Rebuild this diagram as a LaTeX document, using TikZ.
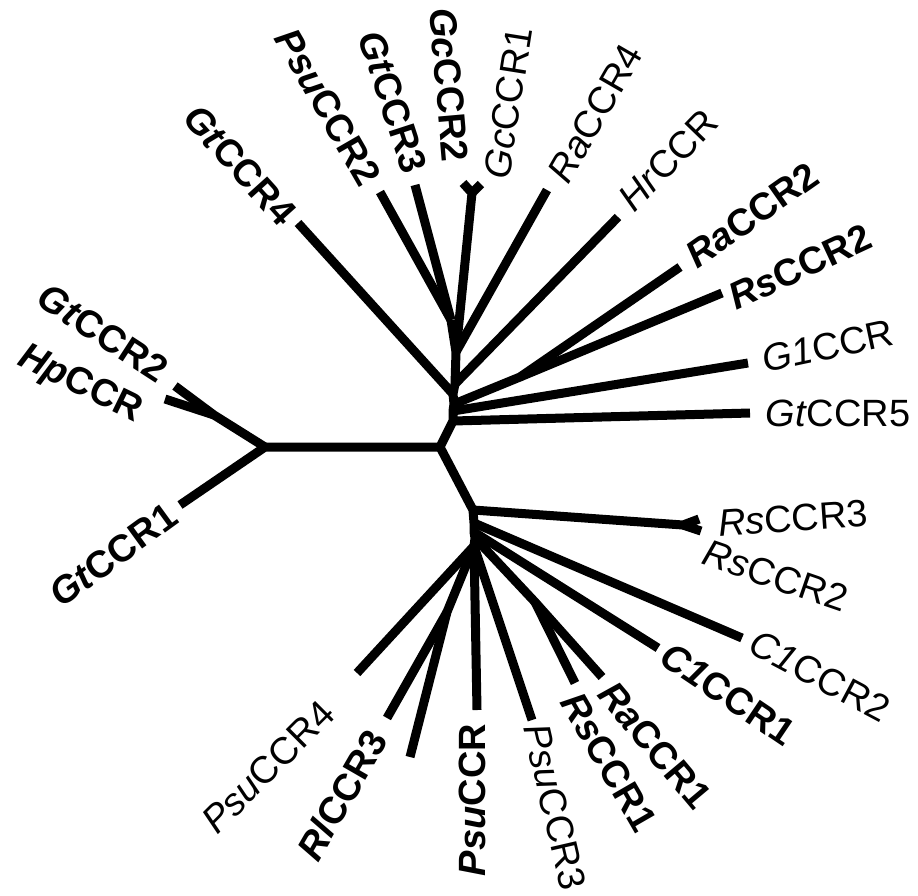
\documentclass[tikz,border=0pt]{standalone}
\usepackage{fontspec}
\setmainfont{Liberation Sans}
\begin{document}
\begin{tikzpicture}[x=1pt,y=-1pt,
  branch/.style={line width=9pt, line cap=butt, line join=round},
  lab/.style={font=\fontsize{38}{40}\selectfont, inner sep=0pt},
  blab/.style={font=\fontsize{38}{40}\selectfont\bfseries, inner sep=0pt}]
\useasboundingbox (0,0) rectangle (918,895);

% internal nodes of the tree
\coordinate (L)  at (265,447);
\coordinate (C)  at (440,447);
\coordinate (hpf) at (214,415);
% upper cluster trunk
\coordinate (U0) at (453,421);
\coordinate (U1) at (453,411);
\coordinate (U2) at (454,404);
\coordinate (U3) at (453,394);
\coordinate (U4) at (455,384);
\coordinate (U5) at (456,352);
\coordinate (U6) at (451,320);
\coordinate (Rf) at (520,377);
\coordinate (Gf) at (472,193);
% lower cluster trunk
\coordinate (Lw) at (473,510);
\coordinate (L1) at (474,523);
\coordinate (L2) at (474,532);
\coordinate (L3) at (475,538);
\coordinate (Lb) at (474,546);
\coordinate (Rs3f) at (683,525);
\coordinate (Rsf) at (535,602);
\coordinate (Rlf) at (447,612);

% leaves
\coordinate (tGtCCR2) at (175,386);
\coordinate (tHpCCR) at (165,399);
\coordinate (tGtCCR1) at (180,505);
\coordinate (tGtCCR5) at (750,413);
\coordinate (tG1CCR) at (748,363);
\coordinate (tRaCCR2) at (680,267);
\coordinate (tRsCCR2) at (722,293);
\coordinate (tGtCCR4) at (298,223);
\coordinate (tHrCCR) at (618,217);
\coordinate (tRaCCR4) at (547,190);
\coordinate (tGcCCR2) at (463,183);
\coordinate (tGcCCR1) at (481,184);
\coordinate (tPsuCCR2) at (380,192);
\coordinate (tGtCCR3) at (415,185);
\coordinate (tRsCCR3) at (699,519);
\coordinate (tRsCCR2b) at (701,531);
\coordinate (tC1CCR2) at (742,638);
\coordinate (tC1CCR1) at (658,648);
\coordinate (tRaCCR1) at (602,677);
\coordinate (tRsCCR1) at (575,683);
\coordinate (tPsuCCR3) at (532,720);
\coordinate (tPsuCCR) at (477,710);
\coordinate (tRlCCR3) at (387,718);
\coordinate (tUnl) at (410,757);
\coordinate (tPsuCCR4) at (357,673);

% backbone and trunks
\draw[branch] (tGtCCR1) -- (L) -- (C) -- (U0) -- (U1) -- (U2) -- (U3) -- (U4) -- (U5) -- (U6);
\draw[branch] (C) -- (Lw) -- (L1) -- (L2) -- (L3) -- (Lb);
\draw[branch] (L) -- (hpf) -- (tGtCCR2);
\draw[branch] (hpf) -- (tHpCCR);

% upper cluster branches
\draw[branch] (U0) -- (tGtCCR5);
\draw[branch] (U1) -- (tG1CCR);
\draw[branch] (U2) -- (Rf) -- (tRaCCR2);
\draw[branch] (Rf) -- (tRsCCR2);
\draw[branch] (U3) -- (tGtCCR4);
\draw[branch] (U4) -- (tHrCCR);
\draw[branch] (U5) -- (tRaCCR4);
\draw[branch] (U5) -- (Gf) -- (tGcCCR2);
\draw[branch] (Gf) -- (tGcCCR1);
\draw[branch] (U6) -- (tPsuCCR2);
\draw[branch] (U6) -- (tGtCCR3);

% lower cluster branches
\draw[branch] (Lw) -- (Rs3f) -- (tRsCCR3);
\draw[branch] (Rs3f) -- (tRsCCR2b);
\draw[branch] (L1) -- (tC1CCR2);
\draw[branch] (L2) -- (tC1CCR1);
\draw[branch] (L3) -- (Rsf) -- (tRaCCR1);
\draw[branch] (Rsf) -- (tRsCCR1);
\draw[branch] (Lb) -- (tPsuCCR3);
\draw[branch] (Lb) -- (tPsuCCR);
\draw[branch] (Lb) -- (Rlf) -- (tUnl);
\draw[branch] (Rlf) -- (tRlCCR3);
\draw[branch] (Lb) -- (tPsuCCR4);

% leaf labels
\node[blab, rotate=-33] (lGtCCR2) at (103,333) {\textit{Gt}CCR2};
\node[blab, rotate=-26] (lHpCCR) at (80,385) {\textit{Hp}CCR};
\node[blab, rotate=36] (lGtCCR1) at (113,555) {\textit{Gt}CCR1};
\node[blab, rotate=-48] (lGtCCR4) at (240,165) {\textit{Gt}CCR4};
\node[blab, rotate=-60] (lPsuCCR2) at (328,107) {\textit{Psu}CCR2};
\node[blab, rotate=-72] (lGtCCR3) at (393,102) {\textit{Gt}CCR3};
\node[blab, rotate=-85] (lGcCCR2) at (449,85) {\textit{Gc}CCR2};
\node[lab, rotate=81] (lGcCCR1) at (508,103) {\textit{Gc}CCR1};
\node[lab, rotate=60] (lRaCCR4) at (595,113) {\textit{Ra}CCR4};
\node[lab, rotate=46] (lHrCCR) at (668,160) {\textit{Hr}CCR};
\node[blab, rotate=35] (lRaCCR2) at (752,215) {\textit{Ra}CCR2};
\node[blab, rotate=25] (lRsCCR2) at (800,267) {\textit{Rs}CCR2};
\node[lab, rotate=12] (lG1CCR) at (828,346) {\textit{G1}CCR};
\node[lab] (lGtCCR5) at (838,413) {\textit{Gt}CCR5};
\node[lab, rotate=4] (lRsCCR3) at (793,518) {\textit{Rs}CCR3};
\node[lab, rotate=-19] (lRsCCR2b) at (776,576) {\textit{Rs}CCR2};
\node[lab, rotate=-28] (lC1CCR2) at (820,676) {\textit{C1}CCR2};
\node[blab, rotate=-34] (lC1CCR1) at (728,694) {\textit{C1}CCR1};
\node[blab, rotate=-50] (lRaCCR1) at (655,745) {\textit{Ra}CCR1};
\node[blab, rotate=-60] (lRsCCR1) at (609,762) {\textit{Rs}CCR1};
\node[lab, rotate=-77] (lPsuCCR3) at (555,807) {\textit{Psu}CCR3};
\node[blab, rotate=90] (lPsuCCR) at (472,800) {\textit{Psu}CCR};
\node[blab, rotate=60] (lRlCCR3) at (342,795) {\textit{Rl}CCR3};
\node[lab, rotate=45] (lPsuCCR4) at (268,767) {\textit{Psu}CCR4};
\end{tikzpicture}
\end{document}
